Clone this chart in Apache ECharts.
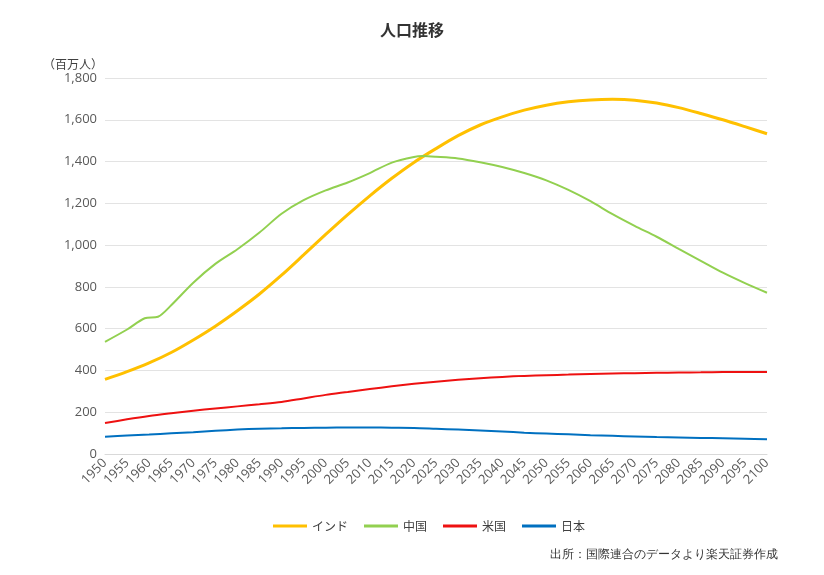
<!DOCTYPE html>
<html><head><meta charset="utf-8">
<script src="https://cdn.jsdelivr.net/npm/echarts@6/dist/echarts.min.js"></script>
<style>html,body{margin:0;padding:0;background:#fff}#c{width:824px;height:575px}</style>
</head><body><div id="c"></div>
<script>
const years = [1950,1955,1960,1965,1970,1975,1980,1985,1990,1995,2000,2005,2010,2015,2020,2025,2030,2035,2040,2045,2050,2055,2060,2065,2070,2075,2080,2085,2090,2095,2100];
const india = [357,394,436,486,546,612,686,766,856,953,1051,1146,1236,1320,1396,1462,1524,1575,1614,1646,1670,1686,1695,1698,1694,1680,1658,1630,1600,1567,1533];
const chinaYears = [1950,1955,1959,1962,1965,1970,1975,1980,1985,1990,1995,2000,2005,2010,2015,2020,2022,2025,2030,2035,2040,2045,2050,2055,2060,2065,2070,2075,2080,2085,2090,2095,2100];
const china = [537,596,650,657,712,820,910,980,1060,1150,1215,1262,1300,1345,1395,1422,1426,1423,1415,1397,1374,1345,1310,1264,1210,1148,1092,1040,982,925,868,818,772];
const usa = [148,166,182,195,207,218,228,238,249,266,283,297,311,324,336,346,355,363,369,374,377,380,383,385,387,389,390,391,392,392,392];
const japan = [83,89,93,99,104,111,117,121,123,125,126,127,127,126,125,121,117,113,108,102,98,94,90,87,84,81,79,77,75,73,71];
const seriesNames = ['インド','中国','米国','日本'];
const yTicks = {min:0, max:1800, interval:200};

const pairs = (xs, ys) => xs.map((x,i)=>[x, ys[i]]);
const font = "'Noto Sans CJK JP', 'Noto Sans', sans-serif";
const numFont = "'Open Sans', 'Noto Sans', sans-serif";
const chart = echarts.init(document.getElementById('c'));
chart.setOption({
  animation:false,
  textStyle:{fontFamily:font},
  title:{text:'人口推移', left:'center', top:17, textStyle:{fontSize:16, fontWeight:'bold', color:'#333', fontFamily:font}},
  grid:{left:105, right:57, top:78, bottom:121},
  legend:{bottom:38, left:268, icon:'rect', itemWidth:34, itemHeight:3, itemGap:16, itemTextGap:4,
    textStyle:{fontSize:12, color:'#404040', fontFamily:font}, data:seriesNames},
  graphic:[{type:'text', right:46, bottom:14, style:{text:'出所：国際連合のデータより楽天証券作成', fontSize:12, fill:'#333', font:'12px '+font}}],
  xAxis:{type:'value', min:years[0], max:years[years.length-1], interval:5,
    axisLine:{show:true, lineStyle:{color:'#d9d9d9'}}, axisTick:{show:false}, splitLine:{show:false},
    axisLabel:{rotate:45, fontSize:13, color:'#595959', margin:7, formatter:v=>String(v), fontFamily:numFont}},
  yAxis:{type:'value', min:yTicks.min, max:yTicks.max, interval:yTicks.interval, name:'（百万人）',
    nameLocation:'end', nameGap:8, nameTextStyle:{fontSize:12, color:'#404040', align:'right', padding:[0,2,0,0], fontFamily:font},
    axisLine:{show:false}, axisTick:{show:false},
    splitLine:{lineStyle:{color:'#e3e3e3'}},
    axisLabel:{fontSize:13, color:'#595959', margin:8, fontFamily:numFont}},
  series:[
    {name:seriesNames[0], type:'line', data:pairs(years, india), smooth:0.3, symbol:'none', lineStyle:{width:3, color:'#FFC000'}, itemStyle:{color:'#FFC000'}},
    {name:seriesNames[1], type:'line', data:pairs(chinaYears, china), smooth:0.3, symbol:'none', lineStyle:{width:2, color:'#92D050'}, itemStyle:{color:'#92D050'}},
    {name:seriesNames[2], type:'line', data:pairs(years, usa), smooth:0.3, symbol:'none', lineStyle:{width:2, color:'#EE1111'}, itemStyle:{color:'#EE1111'}},
    {name:seriesNames[3], type:'line', data:pairs(years, japan), smooth:0.3, symbol:'none', lineStyle:{width:2, color:'#0070C0'}, itemStyle:{color:'#0070C0'}}
  ]
});
</script></body></html>
